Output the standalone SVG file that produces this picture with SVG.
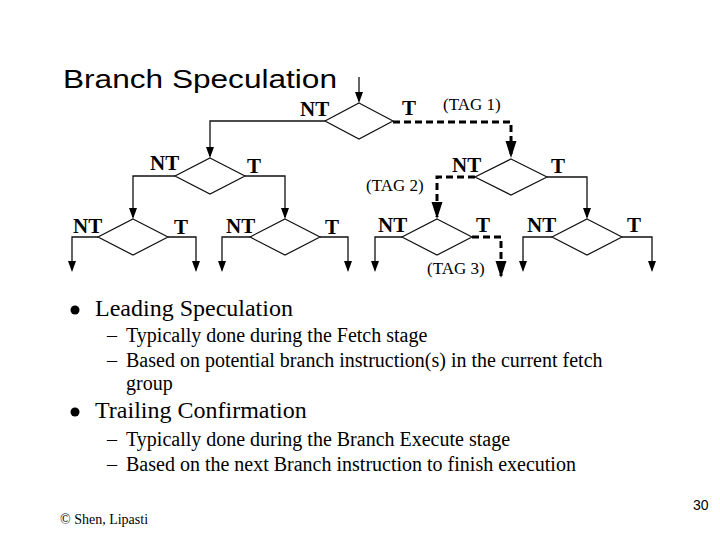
<svg xmlns="http://www.w3.org/2000/svg" width="720" height="540" viewBox="0 0 720 540">
<style>
.bg{fill:#fff}
.dia{fill:none;stroke:#111;stroke-width:1.2}
.sol{fill:none;stroke:#111;stroke-width:1.3}
.dsh{fill:none;stroke:#000;stroke-width:3;stroke-dasharray:7 4}
.lbl{font-family:"Liberation Serif","Times New Roman",serif;font-weight:bold;font-size:21px;fill:#000}
.tag{font-family:"Liberation Serif","Times New Roman",serif;font-size:17px;fill:#000}
.title{font-family:"Liberation Sans",Arial,sans-serif;font-size:25px;fill:#000}
.b1{font-family:"Liberation Serif","Times New Roman",serif;font-size:24px;fill:#000}
.b2{font-family:"Liberation Serif","Times New Roman",serif;font-size:20px;fill:#000}
.foot{font-family:"Liberation Serif","Times New Roman",serif;font-size:14px;fill:#000}
.num{font-family:"Liberation Sans",Arial,sans-serif;font-size:14px;fill:#000}
</style>
<defs>
<marker id="ah" markerUnits="userSpaceOnUse" markerWidth="12" markerHeight="9" refX="9" refY="4" orient="auto">
<path d="M0,0 L11,4 L0,8 z" fill="#000"/>
</marker>
<marker id="ahb" markerUnits="userSpaceOnUse" markerWidth="18" markerHeight="12" refX="15" refY="5.5" orient="auto">
<path d="M0,0 L17,5.5 L0,11 z" fill="#000"/>
</marker>
</defs>
<rect class="bg" x="0" y="0" width="720" height="540"/>
<text class="title" x="63" y="88" textLength="274" lengthAdjust="spacingAndGlyphs">Branch Speculation</text>

<g id="connectors">
<path class="sol" d="M359,77 V101" marker-end="url(#ah)"/>
<path class="sol" d="M325,121 H210 V156" marker-end="url(#ah)"/>
<path class="dsh" d="M393,122 H511 V156" marker-end="url(#ahb)"/>
<path class="sol" d="M175,176 H133 V217" marker-end="url(#ah)"/>
<path class="sol" d="M245,176 H285 V217" marker-end="url(#ah)"/>
<path class="dsh" d="M475,177 H437 V217" marker-end="url(#ahb)"/>
<path class="sol" d="M547,177 H587 V217" marker-end="url(#ah)"/>
<path class="sol" d="M98,237 H72 V270" marker-end="url(#ah)"/>
<path class="sol" d="M168,237 H196 V270" marker-end="url(#ah)"/>
<path class="sol" d="M250,237 H222 V270" marker-end="url(#ah)"/>
<path class="sol" d="M320,237 H348 V270" marker-end="url(#ah)"/>
<path class="sol" d="M402,237 H375 V270" marker-end="url(#ah)"/>
<path class="dsh" d="M472,237 H501 V276" marker-end="url(#ahb)"/>
<path class="sol" d="M552,237 H523 V270" marker-end="url(#ah)"/>
<path class="sol" d="M622,237 H652 V270" marker-end="url(#ah)"/>
</g>

<g id="d0">
<polygon class="dia" points="359,103 393,121 359,139 325,121"/>
<text class="lbl" x="300" y="116">NT</text>
<text class="lbl" x="402" y="115">T</text>
<text class="tag" x="443" y="110">(TAG 1)</text>
</g>
<g id="d1">
<polygon class="dia" points="210,158 245,176 210,194 175,176"/>
<text class="lbl" x="150" y="170">NT</text>
<text class="lbl" x="247" y="173">T</text>
</g>
<g id="d2">
<polygon class="dia" points="511,159 547,177 511,195 475,177"/>
<text class="lbl" x="452" y="172">NT</text>
<text class="lbl" x="551" y="173">T</text>
<text class="tag" x="366" y="191">(TAG 2)</text>
</g>
<g id="d3">
<polygon class="dia" points="133,219 168,237 133,255 98,237"/>
<text class="lbl" x="73" y="233">NT</text>
<text class="lbl" x="174" y="234">T</text>
</g>
<g id="d4">
<polygon class="dia" points="285,219 320,237 285,255 250,237"/>
<text class="lbl" x="226" y="233">NT</text>
<text class="lbl" x="325" y="234">T</text>
</g>
<g id="d5">
<polygon class="dia" points="437,219 472,237 437,255 402,237"/>
<text class="lbl" x="378" y="232">NT</text>
<text class="lbl" x="476" y="232">T</text>
<text class="tag" x="427" y="274">(TAG 3)</text>
</g>
<g id="d6">
<polygon class="dia" points="587,219 622,237 587,255 552,237"/>
<text class="lbl" x="527" y="232">NT</text>
<text class="lbl" x="627" y="232">T</text>
</g>

<g id="bullets">
<circle cx="75" cy="310" r="4.5" fill="#000"/>
<text class="b1" x="95" y="316">Leading Speculation</text>
<text class="b2" x="107" y="342">–</text>
<text class="b2" x="126" y="342">Typically done during the Fetch stage</text>
<text class="b2" x="107" y="367">–</text>
<text class="b2" x="126" y="367">Based on potential branch instruction(s) in the current fetch</text>
<text class="b2" x="126" y="390">group</text>
<circle cx="75" cy="412" r="4.5" fill="#000"/>
<text class="b1" x="95" y="418">Trailing Confirmation</text>
<text class="b2" x="107" y="446">–</text>
<text class="b2" x="126" y="446">Typically done during the Branch Execute stage</text>
<text class="b2" x="107" y="471">–</text>
<text class="b2" x="126" y="471">Based on the next Branch instruction to finish execution</text>
</g>
<text class="foot" x="60" y="524">© Shen, Lipasti</text>
<text class="num" x="693" y="510">30</text>
</svg>
